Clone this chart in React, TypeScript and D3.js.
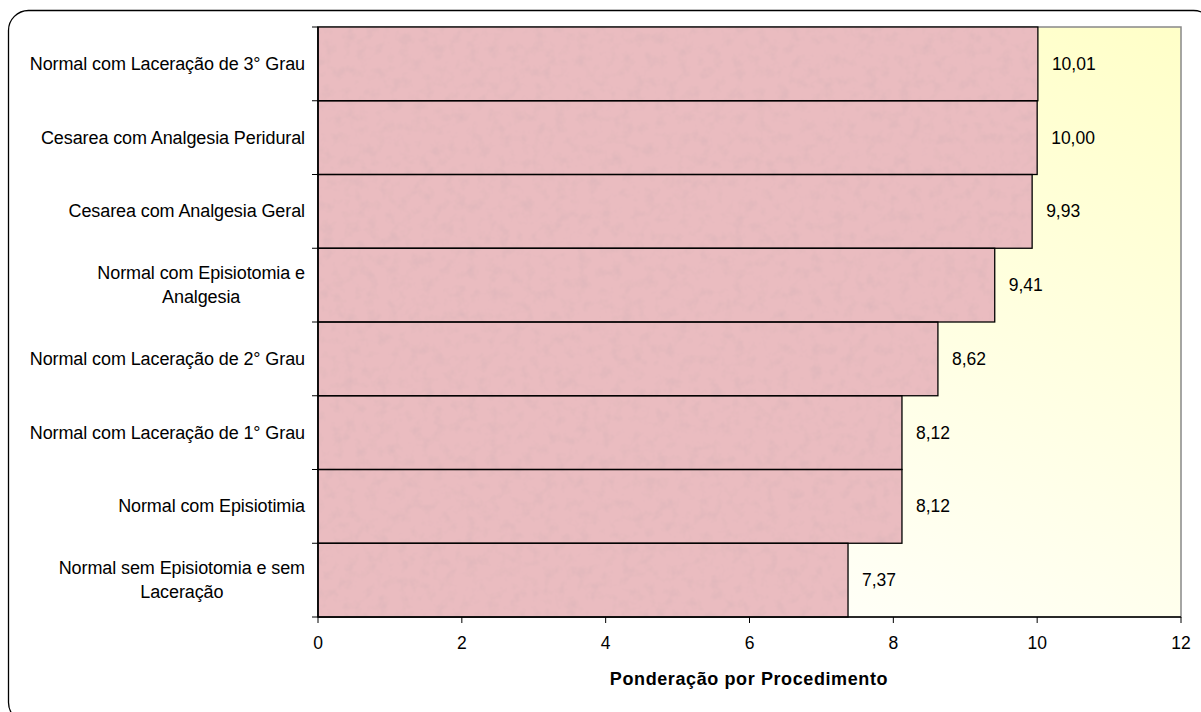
import React, { useEffect, useRef } from "react";
import * as d3 from "d3";

const categories: string[][] = [
  ["Normal com Laceração de 3° Grau"],
  ["Cesarea com Analgesia Peridural"],
  ["Cesarea com Analgesia Geral"],
  ["Normal com Episiotomia e", "Analgesia"],
  ["Normal com Laceração de 2° Grau"],
  ["Normal com Laceração de 1° Grau"],
  ["Normal com Episiotimia"],
  ["Normal sem Episiotomia e sem", "Laceração"],
];
const values: number[] = [10.01, 10.0, 9.93, 9.41, 8.62, 8.12, 8.12, 7.37];
const xTicks: number[] = [0, 2, 4, 6, 8, 10, 12];
const axisTitle = "Ponderação por Procedimento";

const W = 1201;
const H = 712;
const M = { left: 318, top: 27, right: 1181, bottom: 617 };
const FONT = "'Liberation Sans', Arial, sans-serif";
const FS = 17.5;

export default function App() {
  const ref = useRef<SVGSVGElement | null>(null);

  useEffect(() => {
    const svg = d3.select(ref.current!);
    svg.selectAll("*").remove();

    const defs = svg.append("defs");
    const grad = defs
      .append("linearGradient")
      .attr("id", "bg")
      .attr("x1", "1")
      .attr("y1", "0")
      .attr("x2", "0.3")
      .attr("y2", "1");
    grad.append("stop").attr("offset", "0").attr("stop-color", "#ffffc8");
    grad.append("stop").attr("offset", "0.35").attr("stop-color", "#ffffdc");
    grad.append("stop").attr("offset", "1").attr("stop-color", "#ffffff");

    const filt = defs
      .append("filter")
      .attr("id", "tex")
      .attr("x", "0")
      .attr("y", "0")
      .attr("width", "1")
      .attr("height", "1");
    filt
      .append("feTurbulence")
      .attr("type", "fractalNoise")
      .attr("baseFrequency", "0.09")
      .attr("numOctaves", "3")
      .attr("seed", "7")
      .attr("result", "noise");
    filt
      .append("feColorMatrix")
      .attr("in", "noise")
      .attr("type", "matrix")
      .attr(
        "values",
        "0 0 0 0 0.6  0 0 0 0 0.42  0 0 0 0 0.45  0 0 0 -0.7 0.38"
      )
      .attr("result", "dark");
    filt
      .append("feComposite")
      .attr("in", "dark")
      .attr("in2", "SourceGraphic")
      .attr("operator", "atop");

    // frame
    svg
      .append("rect")
      .attr("x", 8.5)
      .attr("y", 10.5)
      .attr("width", 1205)
      .attr("height", 712)
      .attr("rx", 20)
      .attr("fill", "#fff")
      .attr("stroke", "#000")
      .attr("stroke-width", 1.3);

    const x = d3.scaleLinear().domain([0, 12]).range([M.left, M.right]);
    const y = d3
      .scaleBand<number>()
      .domain(d3.range(categories.length))
      .range([M.top, M.bottom])
      .padding(0);

    // plot area
    svg
      .append("rect")
      .attr("x", M.left)
      .attr("y", M.top)
      .attr("width", M.right - M.left)
      .attr("height", M.bottom - M.top)
      .attr("fill", "url(#bg)")
      .attr("stroke", "#888")
      .attr("stroke-width", 1.5);

    // bars
    const bars = svg.append("g");
    bars
      .selectAll("rect.b")
      .data(values)
      .join("rect")
      .attr("class", "b")
      .attr("x", x(0))
      .attr("y", (_, i) => y(i)!)
      .attr("width", (d) => x(d) - x(0))
      .attr("height", y.bandwidth())
      .attr("fill", "#eabcc0")
      .attr("filter", "url(#tex)");
    bars
      .selectAll("rect.o")
      .data(values)
      .join("rect")
      .attr("class", "o")
      .attr("x", x(0))
      .attr("y", (_, i) => y(i)!)
      .attr("width", (d) => x(d) - x(0))
      .attr("height", y.bandwidth())
      .attr("fill", "none")
      .attr("stroke", "#000")
      .attr("stroke-width", 1.3);

    // value labels
    svg
      .append("g")
      .selectAll("text")
      .data(values)
      .join("text")
      .attr("x", (d) => x(d) + 14)
      .attr("y", (_, i) => y(i)! + y.bandwidth() / 2 + 6)
      .attr("font-family", FONT)
      .attr("font-size", FS)
      .attr("fill", "#000")
      .text((d) => d3.format(".2f")(d).replace(".", ","));

    // y axis
    const ya = svg.append("g");
    ya.append("line")
      .attr("x1", M.left)
      .attr("x2", M.left)
      .attr("y1", M.top)
      .attr("y2", M.bottom)
      .attr("stroke", "#000")
      .attr("stroke-width", 1.5);
    const bounds = d3.range(categories.length + 1).map((i) => M.top + i * y.step());
    ya.selectAll("line.t")
      .data(bounds)
      .join("line")
      .attr("class", "t")
      .attr("x1", M.left - 6)
      .attr("x2", M.left)
      .attr("y1", (d) => d)
      .attr("y2", (d) => d)
      .attr("stroke", "#000");

    categories.forEach((lines, i) => {
      const cy = y(i)! + y.bandwidth() / 2;
      const g = ya.append("g");
      const lh = 23.4;
      const texts = lines.map((ln, k) =>
        g
          .append("text")
          .attr("font-family", FONT)
          .attr("font-size", 18)
          .attr("letter-spacing", -0.1)
          .attr("fill", "#000")
          .attr("y", cy + 6 + (k - (lines.length - 1) / 2) * lh)
          .text(ln)
      );
      const right = 305;
      const w0 = (texts[0].node() as SVGTextElement).getComputedTextLength();
      const cx = right - w0 / 2;
      texts.forEach((t) => t.attr("x", cx).attr("text-anchor", "middle"));
    });

    // x axis
    const xa = svg.append("g");
    xa.append("line")
      .attr("x1", M.left)
      .attr("x2", M.right)
      .attr("y1", M.bottom)
      .attr("y2", M.bottom)
      .attr("stroke", "#000")
      .attr("stroke-width", 1.5);
    xa.selectAll("line.t")
      .data(xTicks)
      .join("line")
      .attr("class", "t")
      .attr("x1", (d) => x(d))
      .attr("x2", (d) => x(d))
      .attr("y1", M.bottom)
      .attr("y2", M.bottom + 6)
      .attr("stroke", "#000");
    xa.selectAll("text")
      .data(xTicks)
      .join("text")
      .attr("x", (d) => x(d))
      .attr("y", 649)
      .attr("text-anchor", "middle")
      .attr("font-family", FONT)
      .attr("font-size", FS)
      .text((d) => String(d));

    svg
      .append("text")
      .attr("x", 749)
      .attr("y", 685)
      .attr("text-anchor", "middle")
      .attr("font-family", FONT)
      .attr("font-size", 18)
      .attr("font-weight", "bold")
      .attr("letter-spacing", 0.6)
      .text(axisTitle);
  }, []);

  return (
    <svg
      ref={ref}
      width={W}
      height={H}
      style={{ position: "absolute", left: 0, top: 0 }}
    />
  );
}
